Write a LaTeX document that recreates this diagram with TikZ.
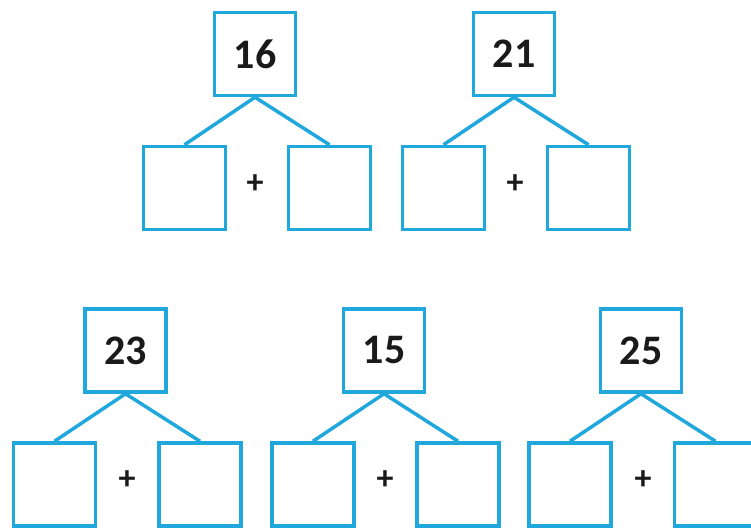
\documentclass[tikz,border=0pt]{standalone}
\usepackage{fontspec}
\setmainfont{Carlito}
\definecolor{boxblue}{RGB}{32,168,220}
\definecolor{numblack}{RGB}{26,26,26}
\begin{document}
\begin{tikzpicture}[x=1pt,y=-1pt,
  numbox/.style={draw=boxblue,line width=3.5pt,minimum width=81pt,minimum height=83pt,inner sep=0pt,text=numblack,font=\fontsize{42}{44}\selectfont\bfseries},
  emptybox/.style={draw=boxblue,line width=3.5pt,minimum width=82pt,minimum height=83pt,inner sep=0pt},
  branch/.style={draw=boxblue,line width=3.5pt},
  plussign/.style={inner sep=0pt,text=numblack,font=\fontsize{34}{34}\selectfont\bfseries}]
\useasboundingbox (0,0) rectangle (751,527);
% top row
\node[numbox] (t1) at (255,54) {16};
\node[emptybox] (t1l) at (184.5,188) {};
\node[emptybox] (t1r) at (329.5,188) {};
\node[plussign] (t1p) at (255,184) {+};
\draw[branch] (t1.south) -- (t1l.north);
\draw[branch] (t1.south) -- (t1r.north);
\node[numbox] (t2) at (514,54) {21};
\node[emptybox] (t2l) at (443.5,188) {};
\node[emptybox] (t2r) at (588.5,188) {};
\node[plussign] (t2p) at (515,184) {+};
\draw[branch] (t2.south) -- (t2l.north);
\draw[branch] (t2.south) -- (t2r.north);
% bottom row
\node[numbox] (b1) at (125.5,350.5) {23};
\node[emptybox] (b1l) at (54.5,484.5) {};
\node[emptybox] (b1r) at (200,484.5) {};
\node[plussign] (b1p) at (127,480) {+};
\draw[branch] (b1.south) -- (b1l.north);
\draw[branch] (b1.south) -- (b1r.north);
\node[numbox] (b2) at (384,350.5) {15};
\node[emptybox] (b2l) at (313,484.5) {};
\node[emptybox] (b2r) at (458,484.5) {};
\node[plussign] (b2p) at (385,480) {+};
\draw[branch] (b2.south) -- (b2l.north);
\draw[branch] (b2.south) -- (b2r.north);
\node[numbox] (b3) at (641,350.5) {25};
\node[emptybox] (b3l) at (570,484.5) {};
\node[emptybox] (b3r) at (715.5,484.5) {};
\node[plussign] (b3p) at (643,480) {+};
\draw[branch] (b3.south) -- (b3l.north);
\draw[branch] (b3.south) -- (b3r.north);
\end{tikzpicture}
\end{document}
